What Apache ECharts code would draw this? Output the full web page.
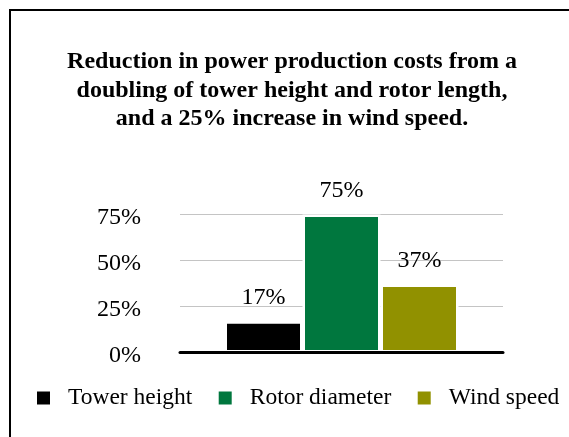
<!DOCTYPE html>
<html>
<head>
<meta charset="utf-8">
<script src="https://cdn.jsdelivr.net/npm/echarts@6/dist/echarts.min.js"></script>
<style>
html,body{margin:0;padding:0;background:#fff;}
#c{width:569px;height:437px;}
</style>
</head>
<body>
<div id="c"></div>
<script>
var titleText = 'Reduction in power production costs from a\ndoubling of tower height and rotor length,\nand a 25% increase in wind speed.';
var seriesNames = ['Tower height', 'Rotor diameter', 'Wind speed'];
var seriesValues = [17, 75, 37];
var seriesColors = ['#000000', '#00773e', '#919100'];
var yTicks = [0, 25, 50, 75];

var FONT = '"Liberation Serif", "Times New Roman", serif';

var chart = echarts.init(document.getElementById('c'), null, {renderer: 'canvas'});

var series = seriesNames.map(function (name, i) {
  return {
    name: name,
    type: 'bar',
    data: [seriesValues[i]],
    barWidth: 78,
    barGap: '0%',
    itemStyle: {color: seriesColors[i], borderColor: '#ffffff', borderWidth: 2.5},
    label: {
      show: true,
      position: 'top',
      distance: 12,
      formatter: '{c}%',
      fontFamily: FONT,
      fontSize: 24,
      color: '#000'
    },
    animation: false
  };
});

chart.setOption({
  animation: false,
  backgroundColor: '#fff',
  title: {
    text: titleText,
    left: 292,
    textAlign: 'center',
    top: 48,
    padding: 0,
    textStyle: {
      fontFamily: FONT,
      fontWeight: 'bold',
      fontSize: 24,
      lineHeight: 28.5,
      color: '#000'
    }
  },
  legend: {
    data: seriesNames,
    left: 37,
    top: 386,
    width: 560,
    padding: 0,
    icon: 'rect',
    itemWidth: 13,
    itemHeight: 13,
    itemGap: 26.4,
    itemStyle: {borderWidth: 0},
    textStyle: {
      fontFamily: FONT,
      fontSize: 23.5,
      color: '#000',
      padding: [0, 0, 0, 13]
    }
  },
  grid: {left: 180, right: 66, top: 214.5, bottom: 84.5, containLabel: false},
  xAxis: {
    type: 'category',
    data: [''],
    z: 10,
    axisLine: {show: true, lineStyle: {color: '#000', width: 3}},
    axisTick: {show: false},
    axisLabel: {show: false},
    splitLine: {show: false}
  },
  yAxis: {
    type: 'value',
    min: yTicks[0],
    max: yTicks[yTicks.length - 1],
    interval: yTicks[1] - yTicks[0],
    axisLine: {show: false},
    axisTick: {show: false},
    axisLabel: {
      formatter: '{v|{value}%}',
      margin: 39,
      rich: {
        v: {
          padding: [6, 0, 0, 0],
          fontFamily: FONT,
          fontSize: 24,
          color: '#000'
        }
      }
    },
    splitLine: {show: true, lineStyle: {color: '#c4c4c4', width: 1}}
  },
  graphic: [{
    type: 'rect',
    shape: {x: 10, y: 10, width: 620, height: 500},
    style: {fill: 'none', stroke: '#000', lineWidth: 2},
    silent: true,
    z: 100
  }],
  series: series
});
</script>
</body>
</html>
